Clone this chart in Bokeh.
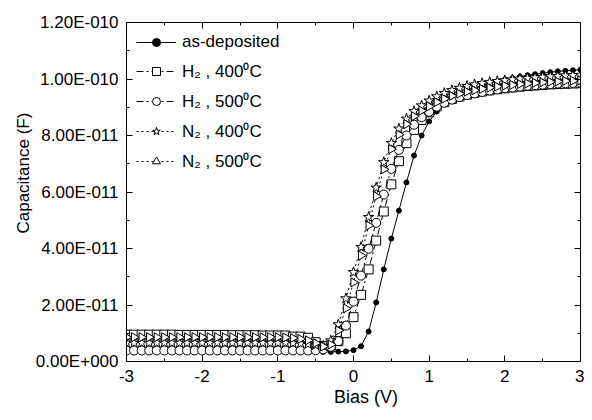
import numpy as np
from bokeh.plotting import figure
from bokeh.models import (Range1d, LinearAxis, FixedTicker, CustomJSTickFormatter,
                          CustomLabelingPolicy, Legend, LegendItem)
from bokeh.embed import file_html
from bokeh.resources import INLINE

# Bias grid (V), 0.1 V steps from -3 to 3
bias = np.linspace(-3.0, 3.0, 61)

# Capacitance values in pF
as_deposited = [3.6, 3.6, 3.6, 3.6, 3.6, 3.6, 3.6, 3.6, 3.5, 3.5, 3.5, 3.5, 3.5, 3.5, 3.5, 3.5, 3.5, 3.5, 3.5, 3.4, 3.4,
                3.4, 3.4, 3.4, 3.4, 3.4, 3.4, 3.4, 3.5, 3.6,
                4.0, 5.4, 10.6, 20.9, 32.6, 43.5, 53.4, 63.4, 72.9, 80.0, 85.0,
                88.5, 91.2, 93.2, 94.7, 95.9, 96.9, 97.7, 98.5, 99.2, 99.8,
                100.3, 100.8, 101.3, 101.7, 102.1, 102.4, 102.7, 102.9, 103.1, 103.3]
h2_400 = [9.5, 9.5, 9.5, 9.5, 9.5, 9.5, 9.5, 9.4, 9.4, 9.4, 9.4, 9.4, 9.4, 9.4, 9.3, 9.3, 9.3, 9.3, 9.2, 9.2, 9.2,
          9.2, 8.8, 8.8, 8.4, 6.8, 5.5, 5.6, 7.2, 10.0,
          15.7, 23.6, 32.6, 42.8, 53.1, 62.7, 70.9, 77.3, 82.0, 85.5, 88.2,
          90.3, 91.8, 92.9, 93.8, 94.5, 95.1, 95.6, 96.0, 96.4, 96.7,
          97.0, 97.3, 97.5, 97.7, 97.9, 98.1, 98.2, 98.3, 98.4, 98.5]
h2_500 = [3.9, 3.9, 3.9, 3.9, 3.9, 3.9, 3.9, 3.9, 3.9, 3.9, 3.9, 3.9, 3.9, 3.9, 3.9, 3.9, 3.9, 3.9, 3.9, 3.9, 3.9,
          3.9, 3.9, 3.9, 3.9, 4.0, 4.3, 5.2, 7.2, 12.7,
          21.2, 30.4, 39.9, 49.1, 59.1, 68.2, 74.9, 80.0, 83.8, 86.5, 88.4,
          90.2, 91.6, 92.7, 93.6, 94.3, 94.9, 95.4, 95.9, 96.3, 96.7,
          97.0, 97.3, 97.6, 97.8, 98.0, 98.2, 98.4, 98.5, 98.6, 98.7]
n2_400 = [6.6, 6.6, 6.6, 6.6, 6.6, 6.6, 6.6, 6.6, 6.6, 6.6, 6.6, 6.6, 6.6, 6.6, 6.6, 6.6, 6.6, 6.6, 6.6, 6.6, 6.6,
          6.6, 6.5, 6.4, 6.2, 5.8, 5.5, 7.4, 13.1, 22.3,
          31.6, 40.5, 51.1, 61.5, 70.5, 77.3, 82.4, 85.9, 88.6, 90.6, 92.3,
          93.8, 95.0, 96.0, 96.8, 97.5, 98.0, 98.5, 98.9, 99.2, 99.5,
          99.8, 100.1, 100.3, 100.5, 100.7, 100.9, 101.0, 101.2, 101.3, 101.4]
n2_500 = [8.6, 8.6, 8.6, 8.6, 8.6, 8.6, 8.6, 8.6, 8.6, 8.6, 8.6, 8.6, 8.6, 8.6, 8.6, 8.6, 8.6, 8.6, 8.6, 8.6, 8.6,
          8.5, 8.3, 8.0, 7.5, 6.5, 5.3, 6.0, 11.0, 18.8,
          28.0, 37.5, 48.1, 58.5, 68.0, 75.2, 80.3, 84.0, 86.8, 88.8, 90.3,
          91.8, 93.0, 94.0, 94.8, 95.5, 96.0, 96.5, 96.9, 97.3, 97.6,
          97.9, 98.2, 98.4, 98.6, 98.8, 99.0, 99.1, 99.3, 99.4, 99.5]

labels = ["as-deposited", "H\u2082 , 400\u2070C", "H\u2082 , 500\u2070C",
          "N\u2082 , 400\u2070C", "N\u2082 , 500\u2070C"]

x_ticks = [-3, -2, -1, 0, 1, 2, 3]
x_minor = [-3, -2.5, -2, -1.5, -1, -0.5, 0, 0.5, 1, 1.5, 2, 2.5, 3]
y_ticks = [0, 2e-11, 4e-11, 6e-11, 8e-11, 1e-10, 1.2e-10]
y_minor = [0, 1e-11, 2e-11, 3e-11, 4e-11, 5e-11, 6e-11, 7e-11, 8e-11, 9e-11, 1e-10, 1.1e-10, 1.2e-10]

FONT = "Liberation Sans"

p = figure(width=584, height=412, x_range=Range1d(-3, 3), y_range=Range1d(0, 1.2e-10),
           output_backend="svg", toolbar_location=None,
           min_border_left=126, min_border_right=4, min_border_top=22, min_border_bottom=51)
p.xgrid.visible = False
p.ygrid.visible = False
p.outline_line_color = "black"
p.background_fill_color = "white"
p.border_fill_color = "white"

yfmt = CustomJSTickFormatter(code="""
const s = tick.toExponential(2).toUpperCase();
const parts = s.split("E");
const e = parts[1];
const sign = e[0] === '-' ? '-' : '+';
const d = e.replace(/[+-]/, '').padStart(3, '0');
return parts[0] + "E" + sign + d;
""")

xfmt = CustomJSTickFormatter(code="""
return String(Math.round(tick));
""")

no_labels = CustomLabelingPolicy(code="""
for (const i of Array.from(indices)) {
    indices.unset(i)
}
""")

def style_axis(ax, ticks, minor):
    ax.ticker = FixedTicker(ticks=ticks, minor_ticks=minor)
    ax.major_tick_in = 6
    ax.major_tick_out = 0
    ax.minor_tick_in = 3
    ax.minor_tick_out = 0
    ax.axis_line_color = "black"
    ax.major_tick_line_color = "black"
    ax.minor_tick_line_color = "black"
    ax.major_label_text_font = FONT
    ax.major_label_text_color = "black"
    ax.axis_label_text_font = FONT
    ax.axis_label_text_font_style = "normal"
    ax.axis_label_text_color = "black"

xa = p.xaxis[0]
style_axis(xa, x_ticks, x_minor)
xa.formatter = xfmt
xa.major_label_text_font_size = "17px"
xa.major_label_standoff = 8
xa.axis_label = "\u00a0" * 5 + "Bias (V)"
xa.axis_label_text_font_size = "18px"
xa.axis_label_standoff = 2

ya = p.yaxis[0]
style_axis(ya, y_ticks, y_minor)
ya.formatter = yfmt
ya.major_label_text_font_size = "17px"
ya.major_label_standoff = 8
ya.axis_label = "\u00a0" * 8 + "Capacitance (F)"
ya.axis_label_text_font_size = "17px"
ya.axis_label_standoff = 0

top = LinearAxis()
style_axis(top, x_ticks, x_minor)
top.major_label_policy = no_labels
top.major_label_text_font_size = "0px"
top.major_label_standoff = 0
p.add_layout(top, "above")

right = LinearAxis()
style_axis(right, y_ticks, y_minor)
right.major_label_policy = no_labels
right.major_label_text_font_size = "0px"
right.major_label_standoff = 0
p.add_layout(right, "right")

pf = 1e-12
series = [
    (as_deposited, "circle", "solid", 5, "black", 0.0),
    (h2_400, "square", "7 3 2 3", 9, "white", 0.0),
    (h2_500, "circle", "7 3 2 3", 9, "white", 0.0),
    (n2_400, "star", "2 3", 11, "white", 0.0),
    (n2_500, "triangle", "2 3", 9, "white", -90.0),
]

items = []
for (vals, marker, dash, size, fill, ang), lab in zip(series, labels):
    y = np.array(vals) * pf
    ln = p.line(bias, y, line_color="black", line_width=1, line_dash=dash)
    sc = p.scatter(bias, y, marker=marker, size=size, fill_color=fill,
                   line_color="black", line_width=1, angle=ang, angle_units="deg")
    items.append(LegendItem(label=lab, renderers=[ln, sc]))

legend = Legend(items=items, location="top_left")
legend.border_line_alpha = 0
legend.background_fill_alpha = 0
legend.margin = 10
legend.padding = 0
legend.glyph_width = 40
legend.glyph_height = 20
legend.label_height = 20
legend.spacing = 7
legend.label_standoff = 6
legend.label_text_font = FONT
legend.label_text_font_size = "17px"
legend.label_text_color = "black"
p.add_layout(legend)

open("out.html", "w").write(file_html(p, INLINE))
